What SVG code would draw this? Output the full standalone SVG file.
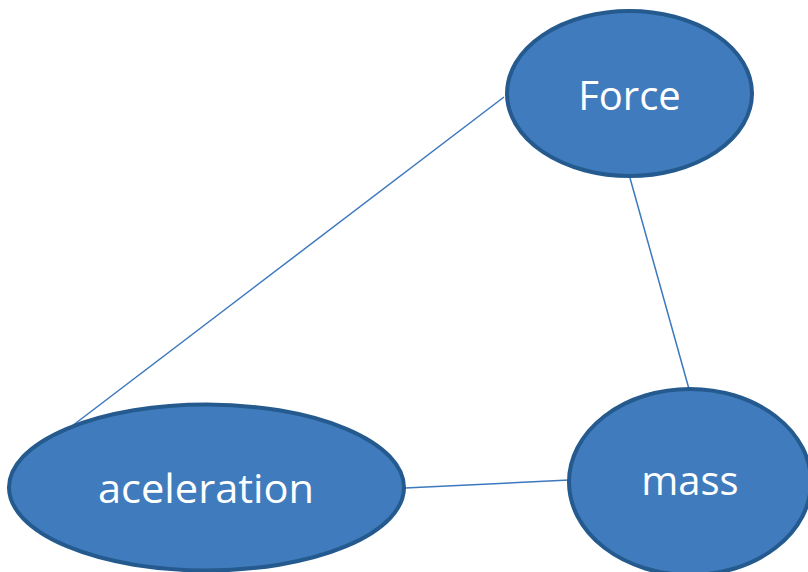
<svg xmlns="http://www.w3.org/2000/svg" width="808" height="572" viewBox="0 0 808 572">
<style>
.node{fill:#407CBD;stroke:#245A8E;stroke-width:4}
.lbl{font-family:"Open Sans","Liberation Sans",sans-serif;font-size:40px;fill:#FFFFFF;text-anchor:middle}
.edge{stroke:#3C78BE;stroke-width:1.5;fill:none}
</style>
<rect width="808" height="572" fill="#FFFFFF"/>
<g id="connectors">
<line class="edge" x1="504" y1="97" x2="72" y2="426"/>
<line class="edge" x1="630" y1="178" x2="689" y2="389"/>
<line class="edge" x1="405" y1="488" x2="569" y2="480"/>
</g>
<g id="force">
<ellipse class="node" cx="629.5" cy="93.5" rx="122.5" ry="82.5"/>
<text class="lbl" x="629.5" y="110">Force</text>
</g>
<g id="acceleration">
<ellipse class="node" cx="206.5" cy="487.5" rx="197.5" ry="83"/>
<text class="lbl" x="206" y="503" textLength="216" lengthAdjust="spacingAndGlyphs">aceleration</text>
</g>
<g id="mass">
<ellipse class="node" cx="690" cy="482" rx="121" ry="93"/>
<text class="lbl" x="690" y="495">mass</text>
</g>
</svg>
